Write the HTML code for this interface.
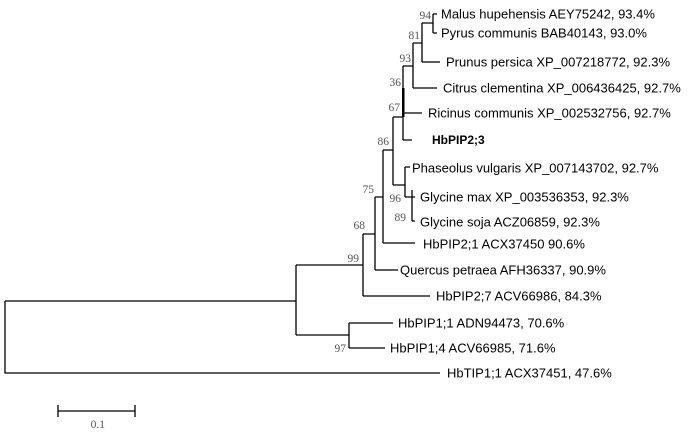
<!DOCTYPE html>
<html><head><style>
html,body{margin:0;padding:0;background:#fff;}
svg{display:block;}
.t{font-family:"Liberation Sans",sans-serif;font-size:13px;fill:#000;}
.b{font-family:"Liberation Serif",serif;font-size:11.5px;fill:#555;}
</style></head><body>
<svg width="700" height="433" viewBox="0 0 700 433" xmlns="http://www.w3.org/2000/svg">
<g stroke="#000" stroke-width="1.3" fill="none">
<path d="M5 301V373H440"/>
<path d="M5 301H296"/>
<path d="M296 265V335"/>
<path d="M296 335H349M349 323V348M349 323H393M349 348H385"/>
<path d="M296 265H363M363 234V296M363 296H430"/>
<path d="M363 234H375M375 197V270M375 270H398"/>
<path d="M375 197H383M383 150V243M383 243H415"/>
<path d="M383 150H393M393 117V185"/>
<path d="M393 185H405M405 167V197M405 167H410M405 197H412M412 190V221M412 197H415M412 221H415"/>
<path d="M393 117H403M403 66V140M403 140H412M403 113H422"/>
<path d="M403 66H413M413 43V88M413 88H437"/>
<path d="M413 43H422M422 23V62M422 62H440"/>
<path d="M422 23H433M433 14V33M433 14H437M433 33H437"/>
<path d="M58 411H135M58 405V417M135 405V417"/>
</g>
<rect x="402" y="88" width="2.5" height="29" fill="#000"/>
<g class="t" dominant-baseline="central">
<text x="441" y="14">Malus hupehensis AEY75242, 93.4%</text>
<text x="441" y="33">Pyrus communis BAB40143, 93.0%</text>
<text x="446" y="62">Prunus persica XP_007218772, 92.3%</text>
<text x="443" y="88">Citrus clementina XP_006436425, 92.7%</text>
<text x="428" y="113">Ricinus communis XP_002532756, 92.7%</text>
<text x="432" y="140" font-weight="bold" font-size="12">HbPIP2;3</text>
<text x="412" y="168">Phaseolus vulgaris XP_007143702, 92.7%</text>
<text x="420" y="197">Glycine max XP_003536353, 92.3%</text>
<text x="420" y="222">Glycine soja ACZ06859, 92.3%</text>
<text x="423" y="244">HbPIP2;1 ACX37450 90.6%</text>
<text x="400" y="270">Quercus petraea AFH36337, 90.9%</text>
<text x="436" y="296">HbPIP2;7 ACV66986, 84.3%</text>
<text x="398" y="323">HbPIP1;1 ADN94473, 70.6%</text>
<text x="390" y="348">HbPIP1;4 ACV66985, 71.6%</text>
<text x="447" y="373">HbTIP1;1 ACX37451, 47.6%</text>
</g>
<g class="b" text-anchor="end">
<text x="431" y="19">94</text>
<text x="420" y="39">81</text>
<text x="411" y="62">93</text>
<text x="401" y="86">36</text>
<text x="400" y="111">67</text>
<text x="389" y="145">86</text>
<text x="401" y="202">96</text>
<text x="406" y="221">89</text>
<text x="374" y="193">75</text>
<text x="365" y="229">68</text>
<text x="359" y="262">99</text>
<text x="346" y="352">97</text>
<text x="105" y="428">0.1</text>
</g>
</svg>
</body></html>
